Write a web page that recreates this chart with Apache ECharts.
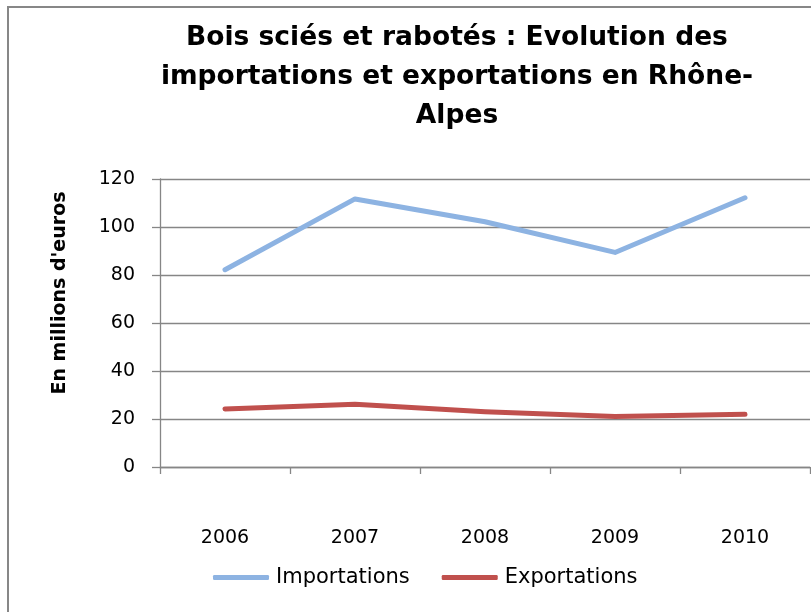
<!DOCTYPE html>
<html>
<head>
<meta charset="utf-8">
<script src="https://cdn.jsdelivr.net/npm/echarts@6/dist/echarts.min.js"></script>
<style>html,body{margin:0;padding:0;background:#fff;}#c{width:811px;height:612px;}</style>
</head>
<body>
<div id="c"></div>
<script>
const categories = ['2006', '2007', '2008', '2009', '2010'];
const importations = [82.2, 111.7, 102.2, 89.4, 112.2];
const exportations = [24.2, 26.1, 23.0, 21.0, 22.0];
const titleText = 'Bois sciés et rabotés : Evolution des\nimportations et exportations en Rhône-\nAlpes';
const yAxisName = "En millions d'euros";

const chart = echarts.init(document.getElementById('c'), null, {renderer: 'canvas'});
const font = 'DejaVu Sans, sans-serif';
chart.setOption({
  animation: false,
  backgroundColor: '#fff',
  graphic: [{
    type: 'rect', shape: {x: 8, y: 7, width: 900, height: 700},
    style: {fill: 'none', stroke: '#878787', lineWidth: 2}, silent: true
  }, {
    type: 'text', x: 60, y: 293, rotation: Math.PI / 2, silent: true,
    style: {text: yAxisName, fontFamily: font, fontSize: 19, fontWeight: 'bold', fill: '#000',
            align: 'center', verticalAlign: 'middle'}
  }],
  title: {
    text: titleText,
    left: 452, top: 14, textAlign: 'center',
    textStyle: {fontFamily: font, fontSize: 26.5, fontWeight: 'bold', color: '#000', lineHeight: 39}
  },
  grid: {left: 160, right: 1, top: 179, bottom: 145, containLabel: false},
  legend: {
    data: ['Importations', 'Exportations'],
    left: 213, top: 567, padding: 0,
    icon: 'roundRect', itemWidth: 56, itemHeight: 5, itemGap: 32,
    textStyle: {fontFamily: font, fontSize: 21, color: '#000', padding: [0, 0, 0, 2]}
  },
  xAxis: {
    type: 'category', data: categories, boundaryGap: true,
    axisLine: {lineStyle: {color: '#868686', width: 1.3}},
    axisTick: {show: true, length: 7, lineStyle: {color: '#868686', width: 1.3}},
    axisLabel: {fontFamily: font, fontSize: 19, color: '#000', margin: 62}
  },
  yAxis: {
    type: 'value', min: 0, max: 120, interval: 20,
    axisLine: {show: true, lineStyle: {color: '#868686', width: 1.3}},
    axisTick: {show: true, length: 8, lineStyle: {color: '#868686', width: 1.3}},
    splitLine: {show: true, lineStyle: {color: '#868686', width: 1.3}},
    axisLabel: {fontFamily: font, fontSize: 19, color: '#000', margin: 25}
  },
  series: [
    {name: 'Importations', type: 'line', data: importations, symbol: 'none',
     lineStyle: {color: '#8DB3E2', width: 5, cap: 'round', join: 'round'}, itemStyle: {color: '#8DB3E2'}},
    {name: 'Exportations', type: 'line', data: exportations, symbol: 'none',
     lineStyle: {color: '#C0504D', width: 5, cap: 'round', join: 'round'}, itemStyle: {color: '#C0504D'}}
  ]
});
</script>
</body>
</html>
